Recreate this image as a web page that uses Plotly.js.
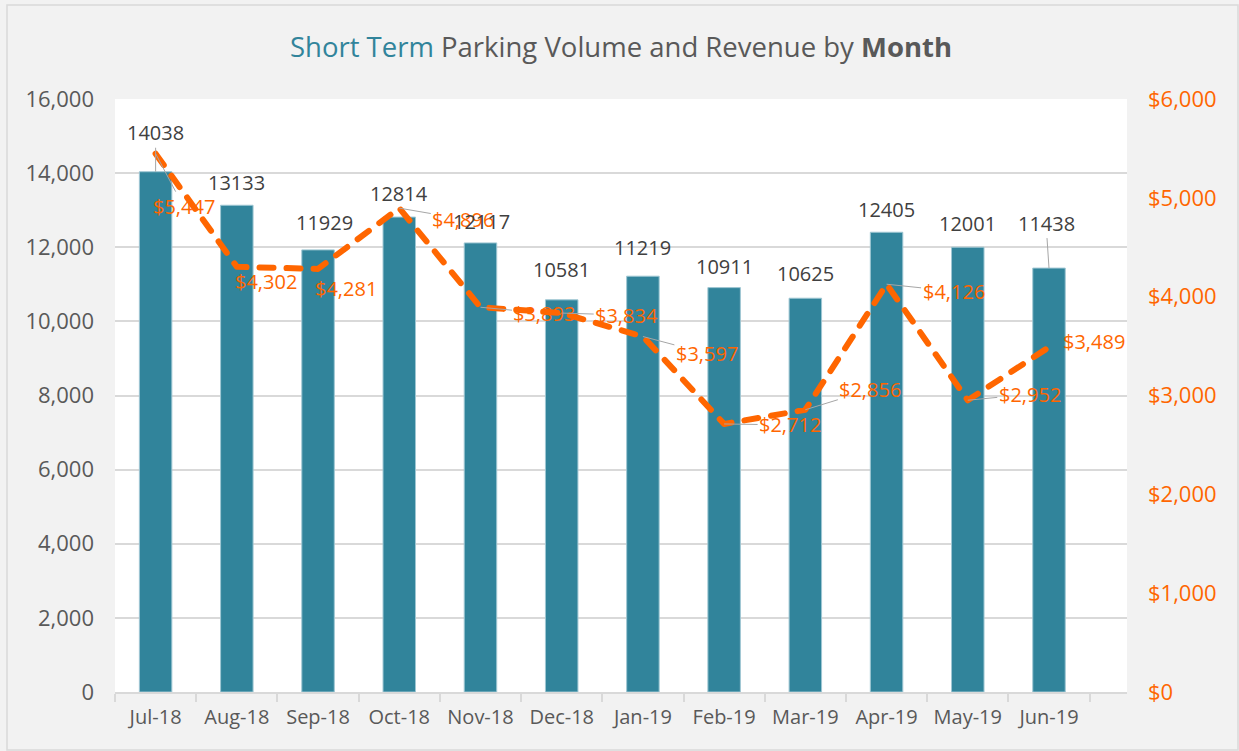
<!DOCTYPE html>
<html>
<head>
<meta charset="utf-8">
<script src="https://cdn.plot.ly/plotly-3.0.1.min.js"></script>
<style>
html,body{margin:0;padding:0;background:#f2f2f2;}
#chart{width:1239px;height:751px;}
</style>
</head>
<body>
<div id="chart"></div>
<script>
// ---- data ----
const months = ['Jul-18','Aug-18','Sep-18','Oct-18','Nov-18','Dec-18','Jan-19','Feb-19','Mar-19','Apr-19','May-19','Jun-19'];
const volume = [14038,13133,11929,12814,12117,10581,11219,10911,10625,12405,12001,11438];
const revenue = [5447,4302,4281,4896,3893,3834,3597,2712,2856,4126,2952,3489];
const leftTicks = [0,2000,4000,6000,8000,10000,12000,14000,16000];
const rightTicks = [0,1000,2000,3000,4000,5000,6000];
const rightTickText = rightTicks.map(v => '$' + v.toLocaleString('en-US'));

// ---- label placement (styling, pixel offsets) ----
const volDx = [0,0,6,0,1,0,0,0,0,0,0,-3];
const volDy = [-39,-23,-27,-24,-21,-30,-29,-21,-25,-23,-24,-45];
const volLeader = [true,false,false,false,false,false,false,false,false,false,false,true];
const revDx = [28,29,28,64,64,65,64,66,65,67,62,45];
const revDy = [53,15,20,11,6,2,17,1,-20,7,-6,-6];
const revLeader = [true,false,false,true,true,true,true,true,true,true,true,false];

const TEAL = '#31849B';
const ORANGE = '#FF6600';
const GREY = '#595959';
const FONT = 'Open Sans, sans-serif';

const bars = {
  type: 'bar', x: months, y: volume, name: 'Volume',
  marker: {color: TEAL, line: {color: '#9fc7d3', width: 1}},
  hoverinfo: 'x+y'
};
const line = {
  type: 'scatter', mode: 'lines', x: months, y: revenue, yaxis: 'y2', name: 'Revenue',
  line: {color: ORANGE, width: 6, dash: '14px,13px'}
};

const annotations = [];
months.forEach((m, i) => {
  annotations.push({
    x: m, y: volume[i], xref: 'x', yref: 'y',
    text: String(volume[i]),
    showarrow: true, arrowhead: 0, arrowwidth: 1, standoff: 0,
    arrowcolor: volLeader[i] ? '#a6a6a6' : 'rgba(0,0,0,0)',
    ax: volDx[i], ay: volDy[i],
    font: {family: FONT, size: 20, color: '#404040'}
  });
  annotations.push({
    x: m, y: revenue[i], xref: 'x', yref: 'y2',
    text: '$' + revenue[i].toLocaleString('en-US'),
    showarrow: true, arrowhead: 0, arrowwidth: 1, standoff: 0,
    arrowcolor: revLeader[i] ? '#a6a6a6' : 'rgba(0,0,0,0)',
    ax: revDx[i], ay: revDy[i],
    font: {family: FONT, size: 20, color: ORANGE}
  });
});

const layout = {
  width: 1239, height: 751,
  paper_bgcolor: '#f2f2f2', plot_bgcolor: '#ffffff',
  margin: {l: 115, r: 112, t: 99, b: 59, pad: 0},
  showlegend: false,
  bargap: 0.6,
  font: {family: FONT, color: GREY},
  title: {
    text: '<span style="color:' + TEAL + '">Short Term</span> Parking Volume and Revenue by <b>Month</b>',
    x: 0.5, xref: 'paper', y: 1 - 47/751, yref: 'container', yanchor: 'middle', xanchor: 'center',
    font: {family: FONT, size: 27.5, color: GREY}
  },
  xaxis: {
    type: 'category', categoryarray: months,
    showgrid: false, showline: true, linecolor: '#d9d9d9', linewidth: 2,
    ticks: 'outside', tickson: 'boundaries', ticklen: 8, tickcolor: '#d9d9d9', tickwidth: 2,
    ticklabelstandoff: 6, tickangle: 0,
    tickfont: {family: FONT, size: 20, color: GREY},
    automargin: false
  },
  yaxis: {
    range: [0, 16000], tickvals: leftTicks, tickformat: ',d',
    showgrid: true, gridcolor: '#d9d9d9', gridwidth: 2,
    zeroline: false, showline: false, ticks: '',
    ticklabelstandoff: 20,
    tickfont: {family: FONT, size: 22, color: GREY},
    automargin: false
  },
  yaxis2: {
    overlaying: 'y', side: 'right',
    range: [0, 6000], tickmode: 'array', tickvals: rightTicks, ticktext: rightTickText,
    showgrid: false, zeroline: false, showline: false, ticks: '',
    ticklabelstandoff: 20,
    tickfont: {family: FONT, size: 22, color: ORANGE},
    automargin: false
  },
  shapes: [{
    type: 'rect', xref: 'paper', yref: 'paper',
    x0: (7 - 115) / 1012, x1: (1238 - 115) / 1012,
    y0: (692 - 750) / 593, y1: (692 - 5) / 593,
    line: {color: '#d9d9d9', width: 1.5}, fillcolor: 'rgba(0,0,0,0)', layer: 'below'
  }],
  annotations: annotations
};

Plotly.newPlot('chart', [bars, line], layout, {displayModeBar: false, staticPlot: true}).then(gd => {
  gd.querySelectorAll('.scatterlayer path.js-line').forEach(p => {
    p.style.strokeLinecap = 'round';
    p.style.strokeLinejoin = 'round';
  });
});
</script>
</body>
</html>
